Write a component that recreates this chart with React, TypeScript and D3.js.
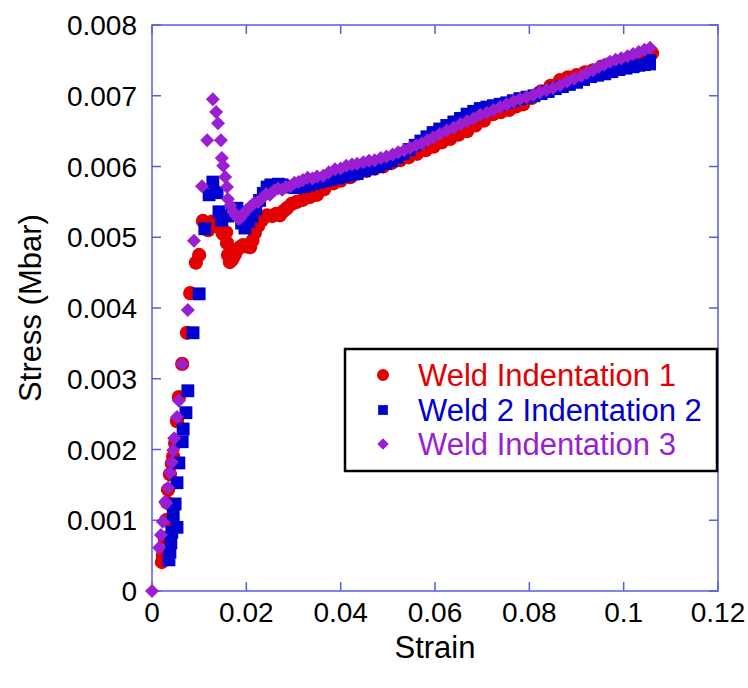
import React, { useEffect, useRef } from "react";
import * as d3 from "d3";

// strain, stress (Mbar)
const weld1 = [
  [0.0021, 0.00041], [0.0023, 0.0005], [0.0027, 0.00075], [0.003, 0.001], [0.0032, 0.00125],
  [0.0034, 0.00143], [0.0038, 0.00165], [0.0042, 0.0018], [0.0045, 0.0019], [0.0049, 0.00209],
  [0.0053, 0.0024], [0.0057, 0.00274], [0.0064, 0.00321], [0.0074, 0.00365], [0.0081, 0.00421],
  [0.0093, 0.00464], [0.01, 0.00475], [0.0108, 0.00523], [0.0119, 0.0051], [0.0127, 0.00522],
  [0.0134, 0.00517], [0.0144, 0.00513], [0.015, 0.00505], [0.0157, 0.00507], [0.0159, 0.00492],
  [0.0161, 0.00475], [0.0165, 0.00465], [0.0169, 0.00468], [0.0172, 0.00471], [0.0176, 0.00476],
  [0.018, 0.00482], [0.0187, 0.00486], [0.0193, 0.00489], [0.02, 0.00487], [0.0208, 0.00486],
  [0.0213, 0.00495], [0.0218, 0.00506], [0.0225, 0.00516], [0.0233, 0.00524], [0.0244, 0.00531],
  [0.0255, 0.0053], [0.0263, 0.00533], [0.0271, 0.00531], [0.0279, 0.00537], [0.0286, 0.00541],
  [0.0296, 0.00547], [0.0307, 0.0055], [0.032, 0.00553], [0.0335, 0.00557], [0.035, 0.0056],
  [0.0365, 0.00568], [0.0384, 0.00576], [0.04, 0.0058], [0.042, 0.00585], [0.0437, 0.0059],
  [0.0455, 0.00594], [0.0472, 0.00597], [0.049, 0.006], [0.0508, 0.00605], [0.0526, 0.00609],
  [0.0544, 0.00613], [0.0562, 0.00618], [0.058, 0.00623], [0.0597, 0.00628], [0.0614, 0.00634],
  [0.0632, 0.00639], [0.065, 0.00645], [0.0668, 0.0065], [0.0686, 0.00658], [0.0704, 0.00665],
  [0.0723, 0.00674], [0.074, 0.00677], [0.0757, 0.0068], [0.0772, 0.00685], [0.0787, 0.00688],
  [0.0805, 0.00697], [0.0825, 0.00706], [0.0845, 0.00714], [0.0865, 0.00722], [0.0882, 0.00726],
  [0.09, 0.00729], [0.0918, 0.00733], [0.0935, 0.00736], [0.0953, 0.00741], [0.0971, 0.00745],
  [0.0988, 0.00748], [0.1005, 0.0075], [0.102, 0.00753], [0.1035, 0.00755], [0.1048, 0.00758],
  [0.106, 0.0076],
];

const weld2 = [
  [0.0036, 0.00044], [0.0038, 0.00055], [0.004, 0.00068], [0.0042, 0.00083], [0.0053, 0.0009],
  [0.0045, 0.00107], [0.0049, 0.00123], [0.0053, 0.00153], [0.0057, 0.00181], [0.0064, 0.00211],
  [0.0066, 0.00229], [0.0072, 0.00252], [0.0076, 0.00283], [0.0087, 0.00365], [0.01, 0.0042],
  [0.0112, 0.00512], [0.0121, 0.0056], [0.0129, 0.00578], [0.0138, 0.00563], [0.0142, 0.00536],
  [0.0148, 0.00524], [0.016, 0.0053], [0.017, 0.00536], [0.018, 0.00541], [0.019, 0.0052],
  [0.0197, 0.00513], [0.0205, 0.00522], [0.0212, 0.0053], [0.022, 0.0054], [0.0228, 0.00552],
  [0.0236, 0.00562], [0.0244, 0.00571], [0.0252, 0.00574], [0.026, 0.00573], [0.0268, 0.00575],
  [0.0276, 0.00574], [0.0285, 0.00572], [0.0294, 0.00571], [0.0303, 0.0057], [0.0312, 0.00571],
  [0.0322, 0.00572], [0.0332, 0.00574], [0.0343, 0.00576], [0.0355, 0.00578], [0.0367, 0.0058],
  [0.038, 0.00582], [0.0393, 0.00584], [0.0406, 0.00586], [0.042, 0.00588], [0.0435, 0.0059],
  [0.045, 0.00594], [0.0465, 0.00597], [0.048, 0.006], [0.0495, 0.00604], [0.0508, 0.00608],
  [0.052, 0.00613], [0.0532, 0.00618], [0.0545, 0.00624], [0.0558, 0.0063], [0.057, 0.00636],
  [0.0583, 0.00642], [0.0596, 0.00648], [0.061, 0.00653], [0.0625, 0.00658], [0.064, 0.00663],
  [0.0654, 0.00668], [0.0668, 0.00674], [0.0682, 0.00678], [0.0696, 0.00682], [0.071, 0.00684],
  [0.0724, 0.00686], [0.0738, 0.00688], [0.0752, 0.0069], [0.0766, 0.00693], [0.078, 0.00696],
  [0.0795, 0.00698], [0.081, 0.007], [0.0825, 0.00703], [0.084, 0.00706], [0.0855, 0.0071],
  [0.087, 0.00713], [0.0885, 0.00716], [0.09, 0.00719], [0.0915, 0.00723], [0.093, 0.00727],
  [0.0945, 0.00729], [0.096, 0.00731], [0.0975, 0.00734], [0.099, 0.00737], [0.1005, 0.00739],
  [0.102, 0.00741], [0.1032, 0.00743], [0.1044, 0.00744], [0.1055, 0.00745], [0.1055, 0.0075],
];

const weld3 = [
  [0, 0], [0.0015, 0.00061], [0.0019, 0.00079], [0.0023, 0.00098], [0.0028, 0.00126],
  [0.003, 0.00124], [0.0034, 0.00146], [0.0038, 0.00167], [0.0042, 0.00182], [0.0045, 0.00199],
  [0.0047, 0.00216], [0.0053, 0.00246], [0.0057, 0.00269], [0.0064, 0.00321], [0.0076, 0.00397],
  [0.0089, 0.00495], [0.0106, 0.00572], [0.0117, 0.00637], [0.0129, 0.00695], [0.0136, 0.00677],
  [0.014, 0.00661], [0.0146, 0.00637], [0.0148, 0.00612], [0.0151, 0.00601], [0.0155, 0.00585],
  [0.0159, 0.00571], [0.0161, 0.00554], [0.0166, 0.00545], [0.0172, 0.00536], [0.0178, 0.0053],
  [0.0183, 0.00526], [0.0187, 0.00527], [0.0193, 0.00532], [0.02, 0.00538], [0.0208, 0.00543],
  [0.0216, 0.00548], [0.0225, 0.0055], [0.0233, 0.00555], [0.0242, 0.00561], [0.025, 0.0056],
  [0.0259, 0.00566], [0.0267, 0.00569], [0.0276, 0.00567], [0.0284, 0.00571], [0.0293, 0.00572],
  [0.0302, 0.00577], [0.0311, 0.00578], [0.032, 0.00581], [0.033, 0.00584], [0.034, 0.00583],
  [0.035, 0.00586], [0.0363, 0.00587], [0.0375, 0.00592], [0.0388, 0.00596], [0.04, 0.00597],
  [0.0412, 0.00601], [0.0424, 0.00603], [0.0435, 0.00604], [0.0448, 0.00606], [0.046, 0.00608],
  [0.0472, 0.00609], [0.0485, 0.00612], [0.0497, 0.00614], [0.051, 0.00617], [0.0522, 0.0062],
  [0.0535, 0.00623], [0.0547, 0.00626], [0.056, 0.0063], [0.0572, 0.00633], [0.0584, 0.00637],
  [0.0596, 0.00641], [0.061, 0.00646], [0.0625, 0.00651], [0.064, 0.00655], [0.0654, 0.0066],
  [0.0668, 0.00664], [0.0682, 0.00668], [0.0696, 0.00673], [0.071, 0.00676], [0.0724, 0.0068],
  [0.0738, 0.00684], [0.0752, 0.00688], [0.0766, 0.00692], [0.078, 0.00695], [0.0794, 0.00698],
  [0.0808, 0.00701], [0.0822, 0.00705], [0.0836, 0.00708], [0.085, 0.00711], [0.0865, 0.00715],
  [0.088, 0.0072], [0.0895, 0.00724], [0.091, 0.00728], [0.0922, 0.00732], [0.0935, 0.00736],
  [0.0947, 0.00741], [0.0959, 0.00744], [0.0971, 0.00748], [0.0983, 0.00751], [0.0995, 0.00753],
  [0.1008, 0.00756], [0.102, 0.00759], [0.1032, 0.00762], [0.1044, 0.00765], [0.1056, 0.00768],
];

const xTicks = [0, 0.02, 0.04, 0.06, 0.08, 0.1, 0.12];
const yTicks = [0, 0.001, 0.002, 0.003, 0.004, 0.005, 0.006, 0.007, 0.008];
const seriesNames = ["Weld Indentation 1", "Weld 2 Indentation 2", "Weld Indentation 3"];
const seriesColors = ["#e20000", "#0000d0", "#9a1ed2"];

const FONT = "Arial, 'Liberation Sans', sans-serif";
const FRAME = "#5b5be6";

function App() {
  const ref = useRef(null);

  useEffect(() => {
    const svg = d3.select(ref.current);
    svg.selectAll("*").remove();

    const left = 152, right = 718, top = 25, bottom = 591;
    const x = d3.scaleLinear().domain([0, 0.12]).range([left, right]);
    const y = d3.scaleLinear().domain([0, 0.008]).range([bottom, top]);

    const g = svg.append("g").attr("font-family", FONT);

    // frame + inward ticks
    const frame = g.append("g").attr("stroke", FRAME).attr("stroke-width", 1.5).attr("fill", "none");
    frame.append("rect").attr("x", left).attr("y", top).attr("width", right - left).attr("height", bottom - top);
    xTicks.forEach(t => {
      frame.append("line").attr("x1", x(t)).attr("x2", x(t)).attr("y1", bottom).attr("y2", bottom - 9);
      frame.append("line").attr("x1", x(t)).attr("x2", x(t)).attr("y1", top).attr("y2", top + 9);
    });
    yTicks.forEach(t => {
      frame.append("line").attr("x1", left).attr("x2", left + 9).attr("y1", y(t)).attr("y2", y(t));
      frame.append("line").attr("x1", right).attr("x2", right - 9).attr("y1", y(t)).attr("y2", y(t));
    });

    g.append("g").selectAll("text").data(xTicks).join("text")
      .attr("x", d => x(d)).attr("y", 622)
      .attr("text-anchor", "middle").attr("font-size", 28)
      .text(d => String(d));

    g.append("g").selectAll("text").data(yTicks).join("text")
      .attr("x", 137).attr("y", d => y(d) + 10)
      .attr("text-anchor", "end").attr("font-size", 28)
      .text(d => String(d));

    g.append("text").attr("x", (left + right) / 2).attr("y", 658)
      .attr("text-anchor", "middle").attr("font-size", 31).text("Strain");
    g.append("text").attr("transform", `translate(41,${(top + bottom) / 2}) rotate(-90)`)
      .attr("text-anchor", "middle").attr("font-size", 31).text("Stress (Mbar)");

    // markers
    const sym = [d3.symbolCircle, d3.symbolSquare, d3.symbolDiamond2];
    const sizes = [160, 165, 125];
    [weld1, weld2, weld3].forEach((data, i) => {
      g.append("g").attr("fill", seriesColors[i]).selectAll("path").data(data).join("path")
        .attr("transform", d => `translate(${x(d[0])},${y(d[1])})`)
        .attr("d", d3.symbol().type(sym[i]).size(sizes[i]));
    });

    // legend
    const lg = g.append("g");
    lg.append("rect").attr("x", 345).attr("y", 349).attr("width", 372).attr("height", 122)
      .attr("fill", "white").attr("stroke", "black").attr("stroke-width", 2.5);
    const rows = [375, 410, 444];
    const lsizes = [113, 95, 85];
    seriesNames.forEach((name, i) => {
      lg.append("path").attr("transform", `translate(383,${rows[i]})`)
        .attr("fill", seriesColors[i]).attr("d", d3.symbol().type(sym[i]).size(lsizes[i]));
      lg.append("text").attr("x", 418).attr("y", rows[i] + 11).attr("font-size", 31)
        .attr("fill", seriesColors[i]).text(name);
    });
  }, []);

  return (
    <svg ref={ref} width={748} height={688} style={{ position: "absolute", left: 0, top: 0, background: "white" }} />
  );
}

export default App;
